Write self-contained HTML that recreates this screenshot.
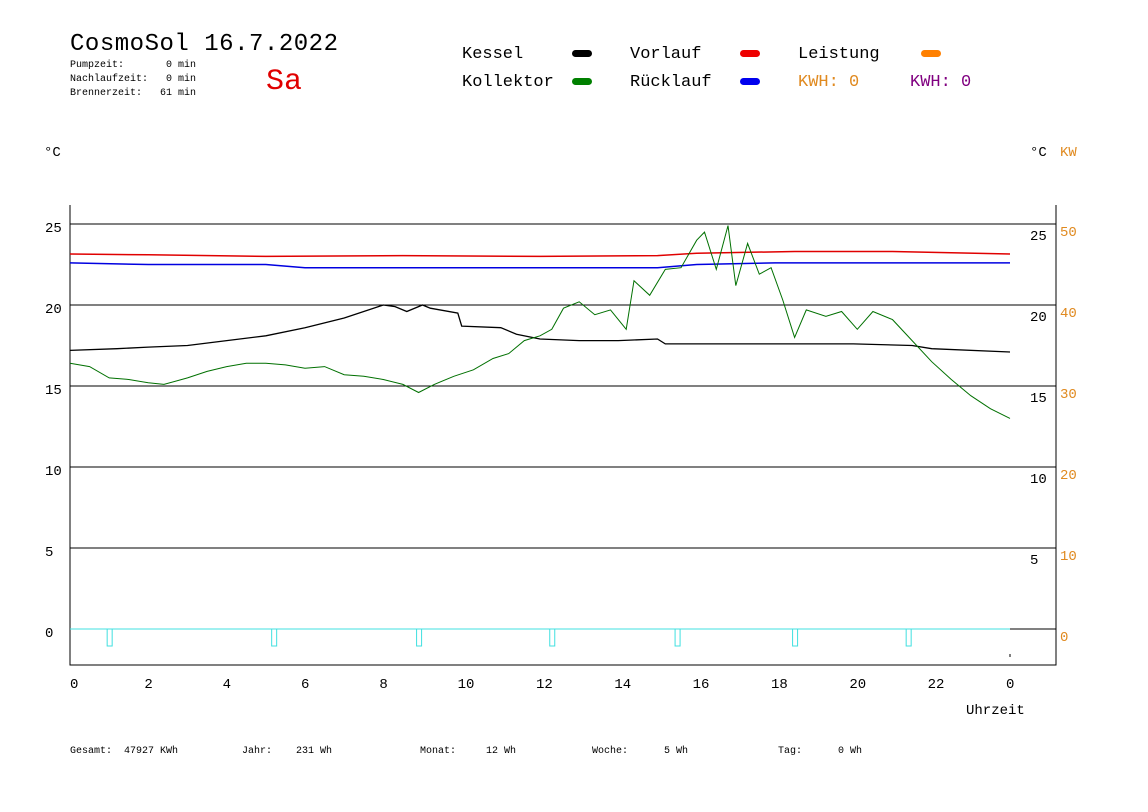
<!DOCTYPE html>
<html><head><meta charset="utf-8"><style>
body{margin:0;background:#fff;width:1148px;height:812px;overflow:hidden}
svg{display:block}
text{font-family:"Liberation Mono",monospace;white-space:pre}
</style></head><body>
<svg id="c" width="1148" height="812" xml:space="preserve">
<text x="70" y="50" font-size="24" fill="#000" textLength="268">CosmoSol 16.7.2022</text>
<text x="70" y="67" font-size="10">Pumpzeit:       0 min</text>
<text x="70" y="81" font-size="10">Nachlaufzeit:   0 min</text>
<text x="70" y="95" font-size="10">Brennerzeit:   61 min</text>
<text x="266" y="89" font-size="30" fill="#e00000">Sa</text>
<g font-size="17">
<text x="462" y="58">Kessel</text><rect x="572" y="50" width="20" height="7" rx="3.5" fill="#000"/>
<text x="462" y="86">Kollektor</text><rect x="572" y="78" width="20" height="7" rx="3.5" fill="#008000"/>
<text x="630" y="58">Vorlauf</text><rect x="740" y="50" width="20" height="7" rx="3.5" fill="#ee0000"/>
<text x="630" y="86">Rücklauf</text><rect x="740" y="78" width="20" height="7" rx="3.5" fill="#0000ee"/>
<text x="798" y="58">Leistung</text><rect x="921" y="50" width="20" height="7" rx="3.5" fill="#ff8000"/>
<text x="798" y="86" fill="#e08a20">KWH: 0</text>
<text x="910" y="86" fill="#800080">KWH: 0</text>
</g>
<text x="44" y="156" font-size="14">°C</text>
<text x="1030" y="156" font-size="14">°C</text>
<text x="1060" y="156" font-size="14" fill="#e08a20">KW</text>
<text x="966" y="714" font-size="14">Uhrzeit</text>
<g font-size="10">
<text x="70" y="753">Gesamt:  47927 KWh</text>
<text x="242" y="753">Jahr:    231 Wh</text>
<text x="420" y="753">Monat:     12 Wh</text>
<text x="592" y="753">Woche:      5 Wh</text>
<text x="778" y="753">Tag:      0 Wh</text>
</g>
<g id="plot"></g>
</svg>
<script>
const yTicks=[0,5,10,15,20,25];
const kwTicks=[0,10,20,30,40,50];
const xTicks=[0,2,4,6,8,10,12,14,16,18,20,22,24];
const xTickLabels=["0","2","4","6","8","10","12","14","16","18","20","22","0"];
const kesselT=[0,1.2,2,3,4,5,6,7,8,8.3,8.6,9,9.2,9.9,10,11,11.4,12,13,14,15,15.2,18,20,21.5,22,24];
const kesselV=[17.2,17.3,17.4,17.5,17.8,18.1,18.6,19.2,20.0,19.9,19.6,20.0,19.8,19.5,18.7,18.6,18.2,17.9,17.8,17.8,17.9,17.6,17.6,17.6,17.5,17.3,17.1];
const kollT=[0,0.5,1,1.5,2,2.4,3,3.5,4,4.5,5,5.5,6,6.5,7,7.5,8,8.5,8.9,9.3,9.8,10.3,10.8,11.2,11.6,12,12.3,12.6,13,13.4,13.8,14.2,14.4,14.8,15.2,15.6,16,16.2,16.5,16.8,17,17.3,17.6,17.9,18.2,18.5,18.8,19.3,19.7,20.1,20.5,21,21.5,22,22.5,23,23.5,24];
const kollV=[16.4,16.2,15.5,15.4,15.2,15.1,15.5,15.9,16.2,16.4,16.4,16.3,16.1,16.2,15.7,15.6,15.4,15.1,14.6,15.1,15.6,16.0,16.7,17.0,17.8,18.1,18.5,19.8,20.2,19.4,19.7,18.5,21.5,20.6,22.2,22.3,24.0,24.5,22.2,24.9,21.2,23.8,21.9,22.3,20.3,18.0,19.7,19.3,19.6,18.5,19.6,19.1,17.8,16.5,15.4,14.4,13.6,13.0];
const vorT=[0,2,5,8.5,12,15,16,18.5,21,24];
const vorV=[23.15,23.1,23.0,23.05,23.0,23.05,23.2,23.3,23.3,23.15];
const rueT=[0,2,5,6,10,15,16,18,21,24];
const rueV=[22.6,22.5,22.5,22.3,22.3,22.3,22.5,22.6,22.6,22.6];
const pulseT=[1.0,5.2,8.9,12.3,15.5,18.5,21.4];

const X0=70,X1=1056,XE=1010,Y0=629,PX=16.2;
const xs=h=>X0+h*(XE-X0)/24, ys=v=>Y0-v*PX;
const NS="http://www.w3.org/2000/svg", g=document.getElementById('plot');
function mk(t,a){const e=document.createElementNS(NS,t);for(const k in a)e.setAttribute(k,a[k]);g.appendChild(e);return e;}
yTicks.forEach((v,i)=>{
 const l=mk('line',{x1:X0,x2:X1,y1:ys(v),y2:ys(v),stroke:'#000','stroke-width':1});
 
 
 const t=mk('text',{x:45,y:ys(v)+8,'font-size':14});t.textContent=v;
 
 
 if(v>0){const r=mk('text',{x:1030,y:ys(v)+16,'font-size':14});r.textContent=v;
 
 }
 const k=mk('text',{x:1060,y:ys(v)+12,'font-size':14,fill:'#e08a20'});k.textContent=kwTicks[i];
 
 
});
const ax=mk('path',{d:`M${X0} 205V665H${X1}V205`,fill:'none',stroke:'#000'});


xTicks.forEach((h,i)=>{
 const t=mk('text',{x:xs(h)+(h==0?0:-4),y:688,'font-size':14});t.textContent=xTickLabels[i];
 
 
});
mk('line',{x1:XE,x2:XE,y1:654,y2:657,stroke:'#000'});
const cz=mk('line',{x1:X0,x2:XE,y1:Y0,y2:Y0,stroke:'#40e0e0','stroke-width':1});


pulseT.forEach(h=>{
 const r=mk('rect',{x:xs(h)-2,y:Y0,width:5,height:17,fill:'none',stroke:'#40e0e0'});
 
 
});
function line(T,V,col,name,w){
 let d='';T.forEach((h,i)=>{d+=(i?'L':'M')+xs(h).toFixed(1)+' '+ys(V[i]).toFixed(1);});
 const p=mk('path',{d,fill:'none',stroke:col,'stroke-width':w||1});
 
 
}
line(vorT,vorV,'#e00000','series-vorlauf',1.5);
line(rueT,rueV,'#0000e0','series-ruecklauf',1.5);
line(kesselT,kesselV,'#000','series-kessel',1.3);
line(kollT,kollV,'#007000','series-kollektor',1);
</script>
</body></html>
